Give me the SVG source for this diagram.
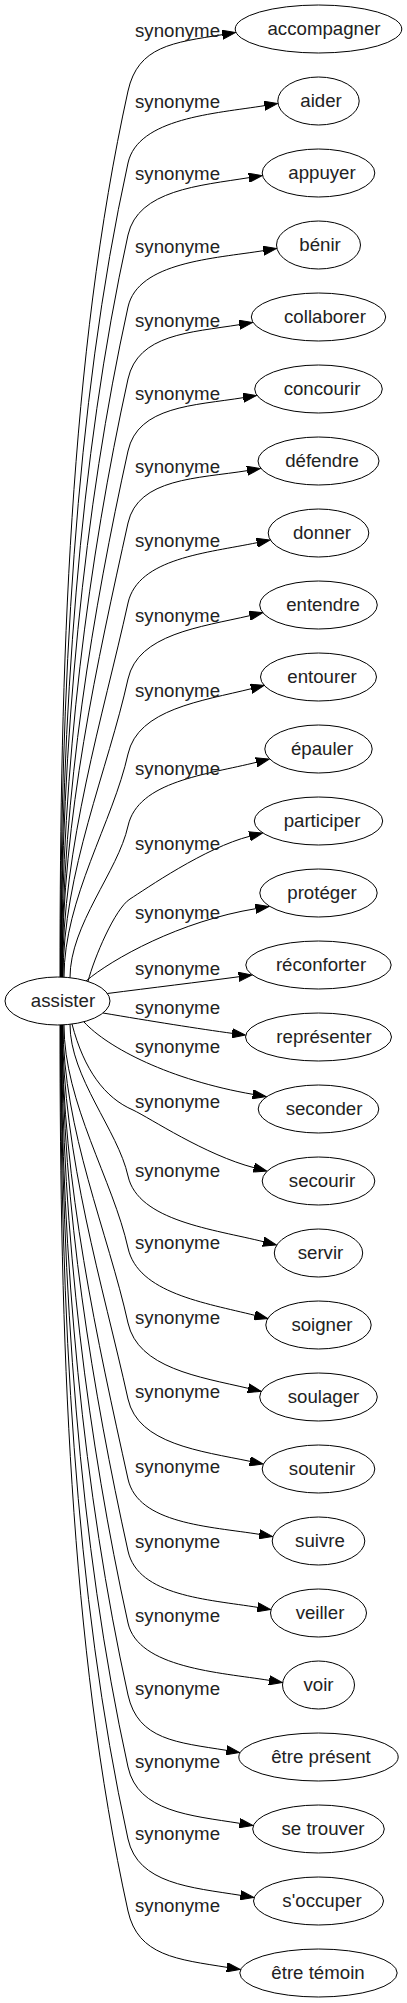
<svg xmlns="http://www.w3.org/2000/svg" width="407" height="2003" viewBox="0 0 407 2003">
<defs>
<style>
text{font-family:"Liberation Sans",Arial,sans-serif;font-size:18.67px;fill:#222}
.node ellipse{fill:none;stroke:#000;stroke-width:1}
.node text{text-anchor:middle}
.edge path{fill:none;stroke:#000;stroke-width:1;marker-end:url(#arr)}
.edge text{text-anchor:middle}
</style>
<marker id="arr" viewBox="0 0 14 10" refX="0.5" refY="5" markerWidth="14" markerHeight="10" markerUnits="userSpaceOnUse" orient="auto">
<path d="M0,0.4 L13.3,5 L0,9.6 Z" fill="#000" stroke="#000" stroke-width="1"/>
</marker>
</defs>
<rect width="407" height="2003" fill="#fff"/>
<g id="edges">
<g class="edge" id="e_accompagner"><path d="M60,977 C60,666.9 69.5,356.8 128,91 C138,46 172.8,42.6 222.8,34.6"/><text x="177.5" y="37">synonyme</text></g>
<g class="edge" id="e_aider"><path d="M60.5,977 C60.5,692.1 74.3,407.2 128,163 C138,118 214.9,113.6 264.9,105.6"/><text x="177.5" y="108">synonyme</text></g>
<g class="edge" id="e_appuyer"><path d="M61,977 C61,717.3 79,457.6 128,235 C138,190 199.4,185.6 249.4,177.6"/><text x="177.5" y="180">synonyme</text></g>
<g class="edge" id="e_benir"><path d="M61,977 C61,742.5 83.8,508 128,307 C138,262 213.8,258.6 263.8,250.6"/><text x="177.5" y="253">synonyme</text></g>
<g class="edge" id="e_collaborer"><path d="M61.5,977 C61.5,767.7 88.5,558.4 128,379 C138,334 189.8,332.6 239.8,324.6"/><text x="177.5" y="327">synonyme</text></g>
<g class="edge" id="e_concourir"><path d="M62,977 C62,792.9 93.3,608.8 128,451 C138,406 193.7,405.6 243.7,397.6"/><text x="177.5" y="400">synonyme</text></g>
<g class="edge" id="e_defendre"><path d="M62,977 C62,818.1 98,659.2 128,523 C138,478 197.6,478.6 247.6,470.6"/><text x="177.5" y="473">synonyme</text></g>
<g class="edge" id="e_donner"><path d="M62.5,977 C62.5,846.1 103.3,715.2 128,603 C138,558 207.4,553 257.4,542.6"/><text x="177.5" y="547">synonyme</text></g>
<g class="edge" id="e_entendre"><path d="M63,977 C63,872.7 108.3,768.4 128,679 C138,634 200.1,627.2 250.1,615.6"/><text x="177.5" y="622">synonyme</text></g>
<g class="edge" id="e_entourer"><path d="M64,977 C64,899 113.3,820.9 128,754 C138,709 201.7,701.1 251.7,688.6"/><text x="177.5" y="697">synonyme</text></g>
<g class="edge" id="e_epauler"><path d="M70,977.7 C70,924.6 118,871.5 128,826 C138,781 206.8,774.7 256.8,762.2"/><text x="177.5" y="775">synonyme</text></g>
<g class="edge" id="e_participer"><path d="M88,981.5 C94,958 115,908.5 130,899 C145,889.5 205,847.5 250,836.2"/><text x="177.5" y="850">synonyme</text></g>
<g class="edge" id="e_proteger"><path d="M86,981 C112,959 180,921 256.2,908.6"/><text x="177.5" y="919">synonyme</text></g>
<g class="edge" id="e_reconforter"><path d="M107.4,993.5 C150,988 200,982 239.2,976.7"/><text x="177.5" y="975">synonyme</text></g>
<g class="edge" id="e_representer"><path d="M103,1013 C150,1021 200,1029 232.6,1033.4"/><text x="177.5" y="1014">synonyme</text></g>
<g class="edge" id="e_seconder"><path d="M84,1022 C108,1048 170,1080 253.3,1094.4"/><text x="177.5" y="1053">synonyme</text></g>
<g class="edge" id="e_secourir"><path d="M72,1024 C84,1070 105,1098 133,1110 C150,1118 205,1155 254.4,1167.8"/><text x="177.5" y="1108">synonyme</text></g>
<g class="edge" id="e_servir"><path d="M70,1024.3 C70,1077.4 118,1130.5 128,1176 C138,1221 213.9,1229.3 263.9,1241.8"/><text x="177.5" y="1177">synonyme</text></g>
<g class="edge" id="e_soigner"><path d="M64,1025 C64,1103 113.3,1181.1 128,1248 C138,1293 205.1,1302.9 255.1,1315.4"/><text x="177.5" y="1249">synonyme</text></g>
<g class="edge" id="e_soulager"><path d="M63,1025 C63,1129.3 108.3,1233.6 128,1323 C138,1368 198.6,1376.8 248.6,1388.4"/><text x="177.5" y="1324">synonyme</text></g>
<g class="edge" id="e_soutenir"><path d="M62.5,1025 C62.5,1155.9 103.3,1286.8 128,1399 C138,1444 200.4,1451 250.4,1461.4"/><text x="177.5" y="1398">synonyme</text></g>
<g class="edge" id="e_suivre"><path d="M62,1025 C62,1183.9 98,1342.8 128,1479 C138,1524 209.8,1526.4 259.8,1534.4"/><text x="177.5" y="1473">synonyme</text></g>
<g class="edge" id="e_veiller"><path d="M62,1025 C62,1209.1 93.3,1393.2 128,1551 C138,1596 207.9,1599.4 257.9,1607.4"/><text x="177.5" y="1548">synonyme</text></g>
<g class="edge" id="e_voir"><path d="M61.5,1025 C61.5,1234.3 88.5,1443.6 128,1623 C138,1668 219.6,1672.4 269.6,1680.4"/><text x="177.5" y="1622">synonyme</text></g>
<g class="edge" id="e_etre_present"><path d="M61,1025 C61,1259.5 83.8,1494 128,1695 C138,1740 176.9,1742.4 226.9,1750.4"/><text x="177.5" y="1695">synonyme</text></g>
<g class="edge" id="e_se_trouver"><path d="M61,1025 C61,1284.7 79,1544.4 128,1767 C138,1812 190.2,1815.4 240.2,1823.4"/><text x="177.5" y="1768">synonyme</text></g>
<g class="edge" id="e_s_occuper"><path d="M60.5,1025 C60.5,1309.9 74.3,1594.8 128,1839 C138,1884 191,1887.4 241,1895.4"/><text x="177.5" y="1840">synonyme</text></g>
<g class="edge" id="e_etre_temoin"><path d="M60,1025 C60,1335.1 69.5,1645.2 128,1911 C138,1956 177.4,1959.4 227.4,1967.4"/><text x="177.5" y="1912">synonyme</text></g>
</g>
<g class="node" id="n_assister"><ellipse cx="57.5" cy="1001" rx="52.5" ry="24"/><text x="63" y="1007">assister</text></g>
<g class="node" id="n_accompagner"><ellipse cx="318.5" cy="29" rx="83.3" ry="24"/><text x="324" y="35">accompagner</text></g>
<g class="node" id="n_aider"><ellipse cx="318.5" cy="101" rx="40.7" ry="24"/><text x="321" y="107">aider</text></g>
<g class="node" id="n_appuyer"><ellipse cx="318.5" cy="173" rx="56.3" ry="24"/><text x="322" y="179">appuyer</text></g>
<g class="node" id="n_benir"><ellipse cx="318.5" cy="245" rx="42" ry="24"/><text x="320" y="251">bénir</text></g>
<g class="node" id="n_collaborer"><ellipse cx="318.5" cy="317" rx="67.2" ry="24"/><text x="325" y="323">collaborer</text></g>
<g class="node" id="n_concourir"><ellipse cx="318.5" cy="389" rx="63.8" ry="24"/><text x="322" y="395">concourir</text></g>
<g class="node" id="n_defendre"><ellipse cx="318.5" cy="461" rx="60.5" ry="24"/><text x="322" y="467">défendre</text></g>
<g class="node" id="n_donner"><ellipse cx="318.5" cy="533" rx="50.3" ry="24"/><text x="322" y="539">donner</text></g>
<g class="node" id="n_entendre"><ellipse cx="318.5" cy="605" rx="58.8" ry="24"/><text x="323" y="611">entendre</text></g>
<g class="node" id="n_entourer"><ellipse cx="318.5" cy="677" rx="58" ry="24"/><text x="322" y="683">entourer</text></g>
<g class="node" id="n_epauler"><ellipse cx="318.5" cy="749" rx="53.7" ry="24"/><text x="322" y="755">épauler</text></g>
<g class="node" id="n_participer"><ellipse cx="318.5" cy="821" rx="64.2" ry="24"/><text x="322" y="827">participer</text></g>
<g class="node" id="n_proteger"><ellipse cx="318.5" cy="893" rx="58.7" ry="24"/><text x="322" y="899">protéger</text></g>
<g class="node" id="n_reconforter"><ellipse cx="318.5" cy="965" rx="72.7" ry="24"/><text x="321" y="971">réconforter</text></g>
<g class="node" id="n_representer"><ellipse cx="318.5" cy="1037" rx="73" ry="24"/><text x="324" y="1043">représenter</text></g>
<g class="node" id="n_seconder"><ellipse cx="318.5" cy="1109" rx="60.3" ry="24"/><text x="324" y="1115">seconder</text></g>
<g class="node" id="n_secourir"><ellipse cx="318.5" cy="1181" rx="56.3" ry="24"/><text x="322" y="1187">secourir</text></g>
<g class="node" id="n_servir"><ellipse cx="318.5" cy="1253" rx="44.2" ry="24"/><text x="320.5" y="1259">servir</text></g>
<g class="node" id="n_soigner"><ellipse cx="318.5" cy="1325" rx="52.7" ry="24"/><text x="322" y="1331">soigner</text></g>
<g class="node" id="n_soulager"><ellipse cx="318.5" cy="1397" rx="58.8" ry="24"/><text x="323.5" y="1403">soulager</text></g>
<g class="node" id="n_soutenir"><ellipse cx="318.5" cy="1469" rx="56.3" ry="24"/><text x="322" y="1475">soutenir</text></g>
<g class="node" id="n_suivre"><ellipse cx="318.5" cy="1541" rx="46.3" ry="24"/><text x="320" y="1547">suivre</text></g>
<g class="node" id="n_veiller"><ellipse cx="318.5" cy="1613" rx="48" ry="24"/><text x="320" y="1619">veiller</text></g>
<g class="node" id="n_voir"><ellipse cx="318.5" cy="1685" rx="36" ry="24"/><text x="318.5" y="1691">voir</text></g>
<g class="node" id="n_etre_present"><ellipse cx="318.5" cy="1757" rx="79.7" ry="24"/><text x="321" y="1763">être présent</text></g>
<g class="node" id="n_se_trouver"><ellipse cx="318.5" cy="1829" rx="65.8" ry="24"/><text x="323" y="1835">se trouver</text></g>
<g class="node" id="n_s_occuper"><ellipse cx="318.5" cy="1901" rx="65" ry="24"/><text x="322" y="1907">s'occuper</text></g>
<g class="node" id="n_etre_temoin"><ellipse cx="318.5" cy="1973" rx="78.7" ry="24"/><text x="318" y="1979">être témoin</text></g>
</svg>
